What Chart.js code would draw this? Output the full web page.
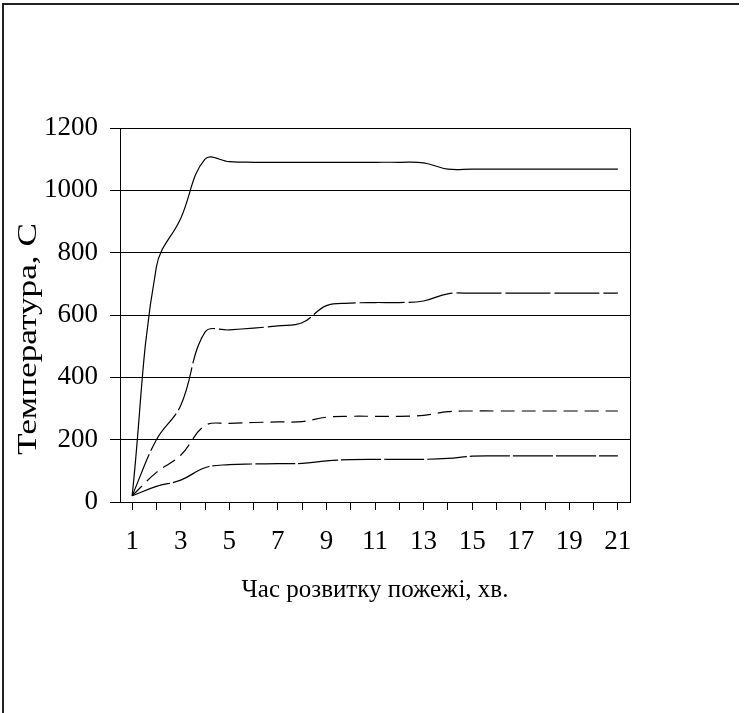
<!DOCTYPE html>
<html>
<head>
<meta charset="utf-8">
<script src="https://cdn.jsdelivr.net/npm/chart.js@4.4.0/dist/chart.umd.min.js"></script>
<style>
    body { margin: 0; background: #fff; }
    #wrap { position: relative; width: 746px; height: 713px; }
    #frame {
        position: absolute; left: 2px; top: 3px; width: 735px; height: 720px;
        border-left: 2px solid #222; border-top: 2px solid #222;
        pointer-events: none;
    }
</style>
</head>
<body>
<div id="wrap">
    <canvas id="chart" width="746" height="713"></canvas>
    <div id="frame"></div>
</div>
<script>
    // хвилини розвитку пожежі
    var minutes = ['1', '2', '3', '4', '5', '6', '7', '8', '9', '10', '11',
        '12', '13', '14', '15', '16', '17', '18', '19', '20', '21'];

    // температура, С
    var curve1 = [20, 755, 910, 1100, 1092, 1090, 1090, 1090, 1090, 1090, 1090,
        1090, 1088, 1068, 1068, 1068, 1068, 1068, 1068, 1068, 1068];
    var curve2 = [20, 200, 310, 545, 552, 558, 565, 575, 630, 638, 640,
        640, 645, 668, 670, 670, 670, 670, 670, 670, 670];
    var curve3 = [20, 95, 150, 245, 252, 255, 257, 258, 272, 275, 275,
        275, 278, 290, 292, 292, 292, 292, 292, 292, 292];
    var curve4 = [20, 50, 70, 110, 120, 122, 123, 124, 132, 136, 137,
        137, 137, 140, 147, 148, 148, 148, 148, 148, 148];

    var yTitle = 'Температура, С';
    var xTitle = 'Час розвитку пожежі, хв.';

    var serif = '"Liberation Serif", "Times New Roman", serif';

    // рамка області побудови та підпис осі Y (в оригіналі розтягнутий)
    var plotFrame = {
        id: 'plotFrame',
        afterDraw: function (chart) {
            var a = chart.chartArea;
            var ctx = chart.ctx;
            ctx.save();
            ctx.strokeStyle = '#000';
            ctx.lineWidth = 1;
            ctx.strokeRect(Math.round(a.left) + 0.5, Math.round(a.top) + 0.5,
                Math.round(a.right - a.left), Math.round(a.bottom - a.top));
            ctx.font = '27px ' + serif;
            var w = ctx.measureText(yTitle).width;
            ctx.translate(29, 339);
            ctx.rotate(-Math.PI / 2);
            ctx.scale(232 / w, 1);
            ctx.fillStyle = '#000';
            ctx.textAlign = 'center';
            ctx.textBaseline = 'middle';
            ctx.fillText(yTitle, 0, 0);
            ctx.restore();
        }
    };

    function line(data, dash) {
        return {
            data: data,
            borderColor: '#000',
            borderWidth: 1.2,
            borderDash: dash,
            pointRadius: 0,
            tension: 0.4,
            fill: false
        };
    }

    var config = {
        type: 'line',
        data: {
            labels: minutes,
            datasets: [
                line(curve1, []),
                line(curve2, [45, 4]),
                line(curve3, [14, 7]),
                line(curve4, [40, 3])
            ]
        },
        options: {
            responsive: false,
            animation: false,
            layout: { padding: { left: 0, top: 128, right: 116, bottom: 0 } },
            plugins: {
                legend: { display: false },
                tooltip: { enabled: false }
            },
            scales: {
                x: {
                    offset: true,
                    afterFit: function (s) { s.height = 211; },
                    grid: { drawOnChartArea: false, color: '#000', tickLength: 8 },
                    border: { color: '#000' },
                    ticks: {
                        color: '#000',
                        padding: 16,
                        maxRotation: 0,
                        autoSkip: false,
                        font: { family: serif, size: 27 },
                        callback: function (v, i) { return i % 2 === 0 ? minutes[i] : ''; }
                    },
                    title: {
                        display: true,
                        text: xTitle,
                        color: '#000',
                        font: { family: serif, size: 25 },
                        padding: { top: 0, bottom: 108 }
                    }
                },
                y: {
                    min: 0,
                    max: 1200,
                    afterFit: function (s) { s.width = 120; },
                    grid: { color: '#000', tickLength: 10 },
                    border: { color: '#000' },
                    ticks: {
                        stepSize: 200,
                        color: '#000',
                        padding: 12,
                        font: { family: serif, size: 27 },
                        callback: function (v) { return String(v); }
                    }
                }
            }
        },
        plugins: [plotFrame]
    };

    var ctx = document.getElementById('chart').getContext('2d');
    var myChart = new Chart(ctx, config);
</script>
</body>
</html>
